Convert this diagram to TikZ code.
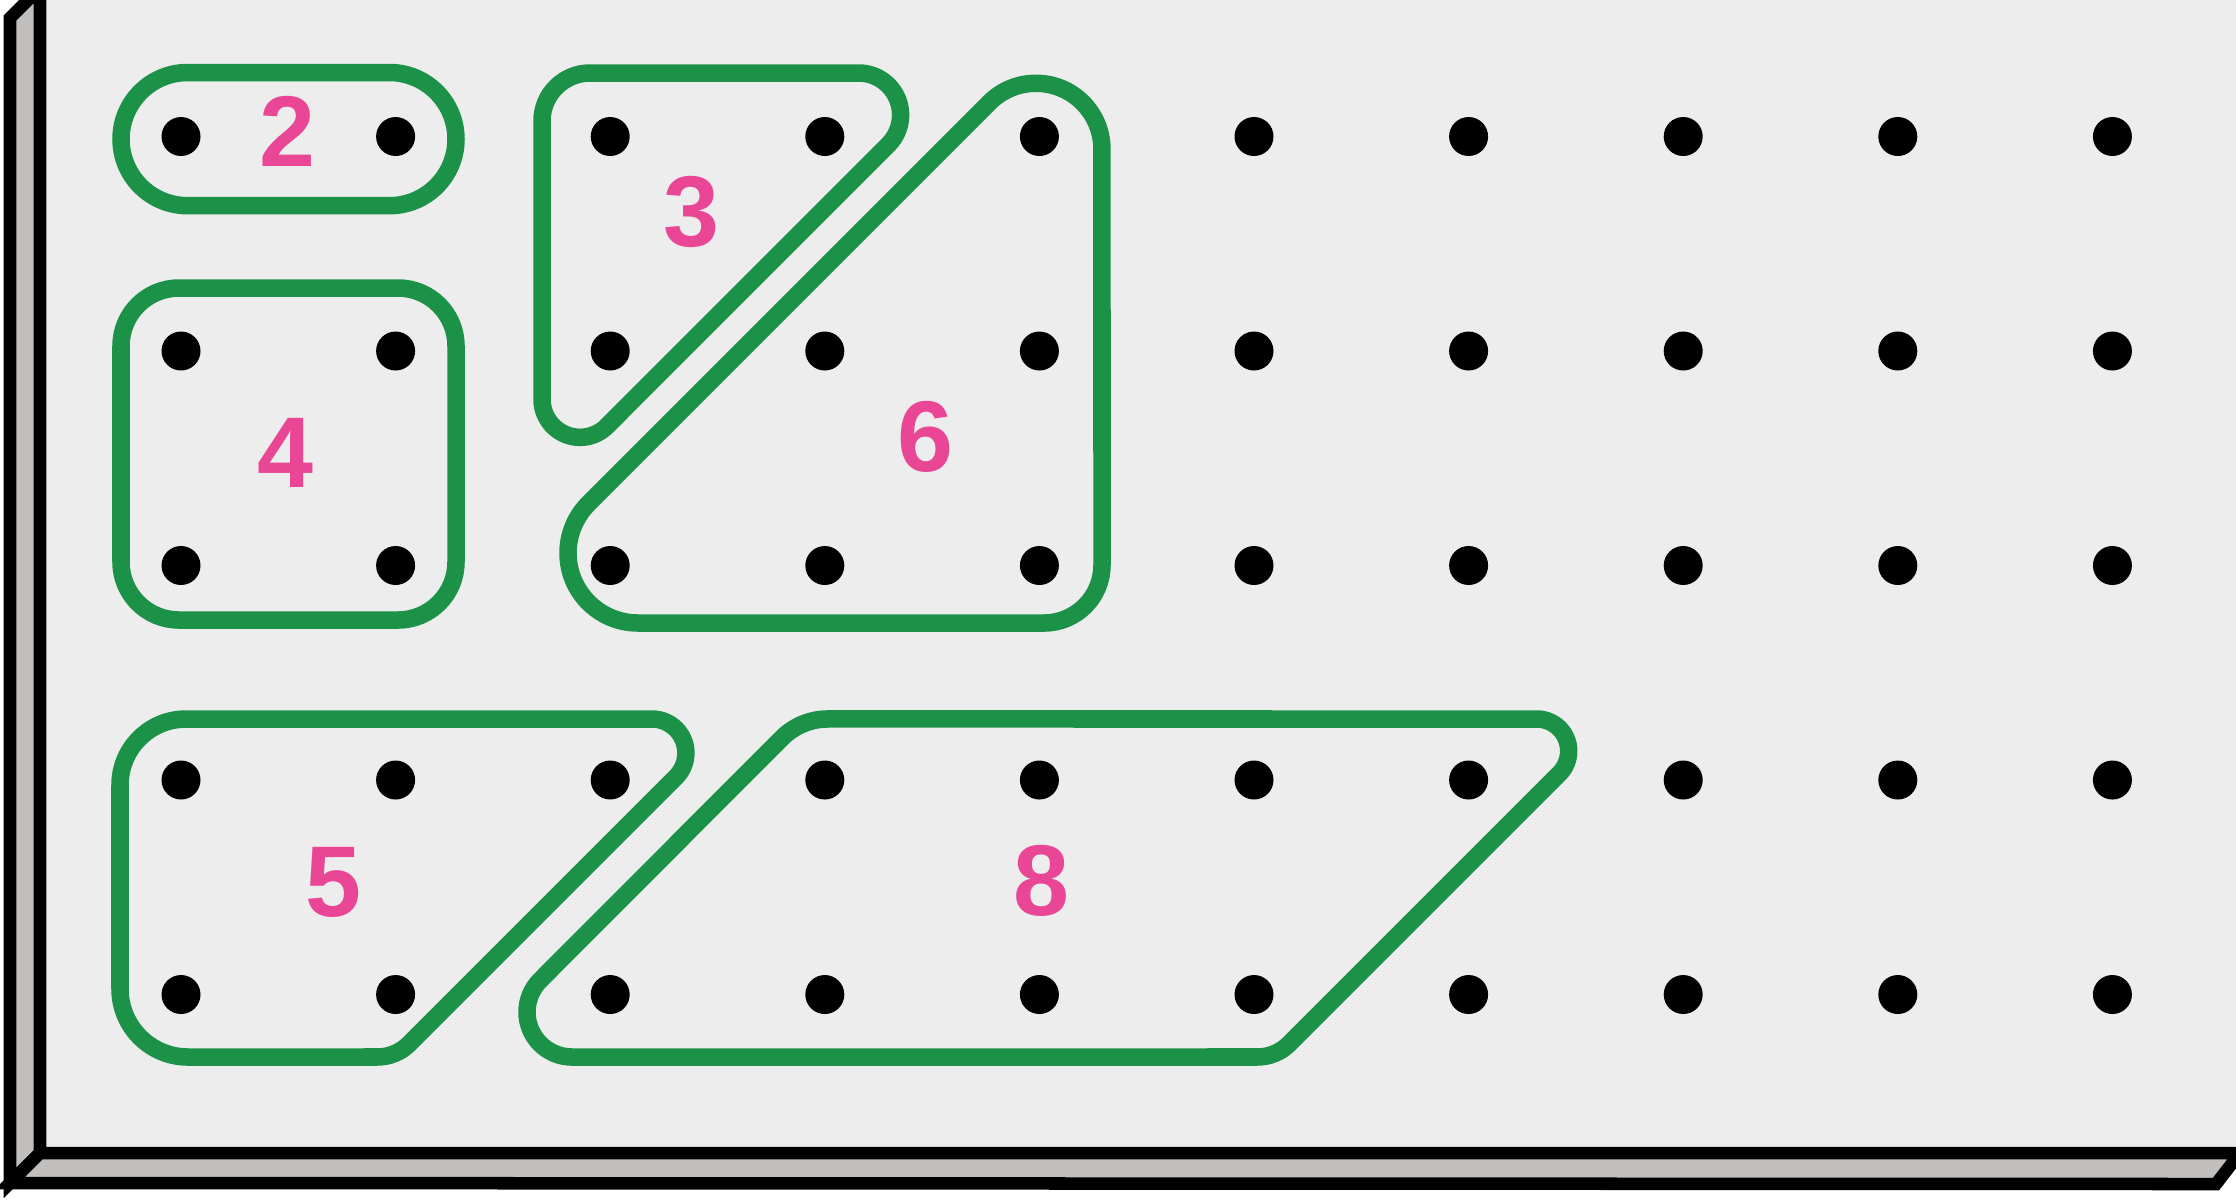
\documentclass[tikz,border=0pt]{standalone}
\usepackage{fontspec}
\setmainfont{Liberation Sans}
\usetikzlibrary{calc}
\definecolor{bandgreen}{RGB}{28,146,72}
\definecolor{labelpink}{RGB}{233,70,150}
\definecolor{boardface}{RGB}{237,237,237}
\definecolor{boardside}{RGB}{193,191,189}
\begin{document}
\begin{tikzpicture}[x=0.01cm,y=-0.01cm,
  band/.style={draw=bandgreen,line width=0.175cm,line join=round},
  boardedge/.style={draw=black,line width=0.125cm,fill=boardside,line join=miter},
  count/.style={text=labelpink,font=\fontsize{28.6}{30}\selectfont\bfseries,inner sep=0pt}]
\useasboundingbox (0,0) rectangle (2236,1202);
\begin{scope}
\clip (0,0) rectangle (2236,1202);
\fill[white] (0,0) rectangle (2236,1202);
\fill[boardface] (40,-20) rectangle (2250,1153);
\path[boardedge] (40,-12) -- (40,1153) -- (10,1183) -- (10,18) -- cycle;
\path[boardedge] (40,1153) -- (2240,1153) -- (2216,1184) -- (10,1183) -- cycle;
\end{scope}
% band 2
\draw[band] (187.6,72.5) -- (389.4,72.5) arc[start angle=270,end angle=450,radius=66.6] -- (187.6,205.7) arc[start angle=90,end angle=270,radius=66.6] -- cycle;
% band 4
\draw[band] (179,288) -- (398,288) arc[start angle=270,end angle=360,radius=58] -- (456,562) arc[start angle=0,end angle=90,radius=58] -- (179,620) arc[start angle=90,end angle=180,radius=58] -- (121,346) arc[start angle=180,end angle=270,radius=58] -- cycle;
% band 3
\draw[band] (542,121) arc[start angle=180,end angle=270,radius=48] -- (858.6,73) arc[start angle=270,end angle=405,radius=42] -- (606.9,426.2) arc[start angle=45,end angle=180,radius=38] -- cycle;
% band 6
\draw[band] (989.3,102.6) arc[start angle=225,end angle=360,radius=66] -- (1102,565) arc[start angle=0,end angle=90,radius=58] -- (638,623) arc[start angle=90,end angle=225,radius=70] -- cycle;
% band 5
\draw[band] (120,785) arc[start angle=180,end angle=270,radius=66] -- (651.9,719) arc[start angle=270,end angle=405,radius=34] -- (409.2,1043.8) arc[start angle=45,end angle=90,radius=45] -- (188,1057) arc[start angle=90,end angle=180,radius=68] -- cycle;
% band 8
\draw[band] (781.9,738) arc[start angle=225,end angle=270,radius=65] -- (1536.7,719) arc[start angle=270,end angle=405,radius=32] -- (1289.2,1043.8) arc[start angle=45,end angle=90,radius=45] -- (572,1057) arc[start angle=90,end angle=225,radius=45] -- cycle;
% pegs
\foreach \i in {0,...,9}
  \foreach \j in {0,...,4}
    \fill[black] ({181+214.6*\i},{136.5+214.5*\j}) circle[radius=19.5];
% labels
\node[count] (n2) at (287,131) {2};
\node[count] (n3) at (691.5,212) {3};
\node[count] (n4) at (285,453) {4};
\node[count] (n5) at (333.5,882) {5};
\node[count] (n6) at (925.5,437) {6};
\node[count] (n8) at (1041,881) {8};
\end{tikzpicture}
\end{document}
